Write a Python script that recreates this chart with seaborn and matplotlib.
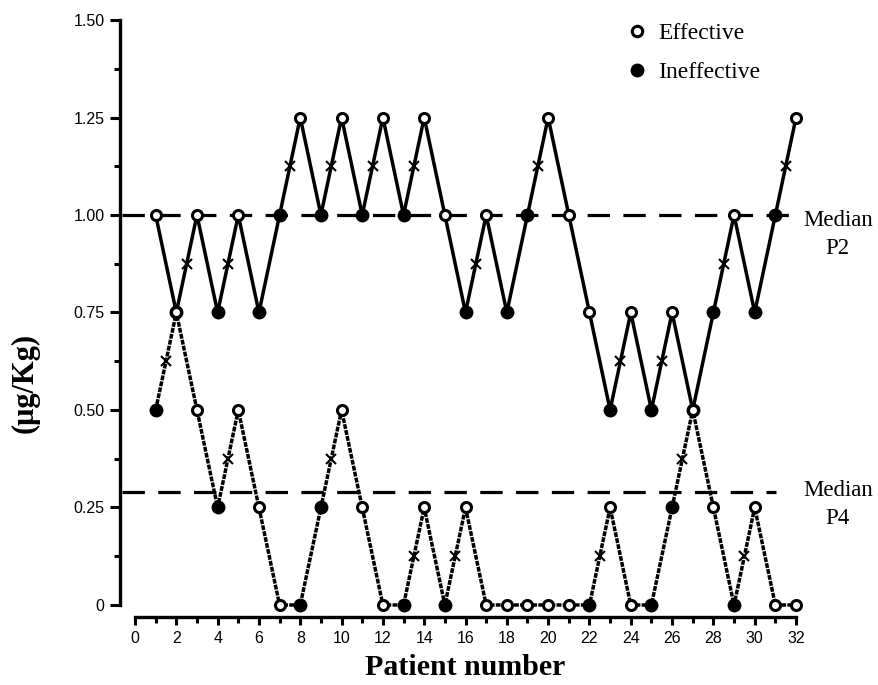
import matplotlib
matplotlib.use("Agg")
import matplotlib.pyplot as plt
import seaborn as sns
import pandas as pd
from matplotlib.lines import Line2D

# Up-and-down sequence, dose per patient (ug/Kg) and response (1 = effective)
patients = list(range(1, 33))
p2_dose = [1.00, 0.75, 1.00, 0.75, 1.00, 0.75, 1.00, 1.25, 1.00, 1.25, 1.00,
           1.25, 1.00, 1.25, 1.00, 0.75, 1.00, 0.75, 1.00, 1.25, 1.00, 0.75,
           0.50, 0.75, 0.50, 0.75, 0.50, 0.75, 1.00, 0.75, 1.00, 1.25]
p2_effective = [1, 0, 1, 0, 1, 0, 0, 1, 0, 1, 0, 1, 0, 1, 1, 0,
                1, 0, 0, 1, 1, 1, 0, 1, 0, 1, 0, 0, 1, 0, 0, 1]
p4_dose = [0.50, 0.75, 0.50, 0.25, 0.50, 0.25, 0, 0, 0.25, 0.50, 0.25,
           0, 0, 0.25, 0, 0.25, 0, 0, 0, 0, 0, 0, 0.25, 0, 0, 0.25,
           0.50, 0.25, 0, 0.25, 0, 0]
p4_effective = [0, 1, 1, 0, 1, 1, 1, 0, 0, 1, 1, 1, 0, 1, 0, 1,
                1, 1, 1, 1, 1, 0, 1, 1, 0, 0, 1, 1, 0, 1, 1, 1]
median_p2 = 1.00
median_p4 = 0.29

y_ticks = [0, 0.25, 0.50, 0.75, 1.00, 1.25, 1.50]
y_labels = ["0", "0.25", "0.50", "0.75", "1.00", "1.25", "1.50"]
x_ticks = list(range(0, 33, 2))

sns.set_theme(style="ticks")
plt.rcParams['font.family'] = ['Liberation Sans', 'DejaVu Sans']
plt.rcParams['text.color'] = 'black'
serif = ['Liberation Serif', 'DejaVu Serif']

fig = plt.figure(figsize=(8.79, 6.85), dpi=100)
ax = fig.add_axes([0.1536, 0.1168, 0.752, 0.854])


def crossovers(dose, eff):
    # midpoints where an ineffective dose is followed by an effective one
    xs, ys = [], []
    for i in range(len(dose) - 1):
        if eff[i] == 0 and eff[i + 1] == 1:
            xs.append((patients[i] + patients[i + 1]) / 2)
            ys.append((dose[i] + dose[i + 1]) / 2)
    return xs, ys


series = [
    (p2_dose, p2_effective, '-'),
    (p4_dose, p4_effective, (0, (1.4, 0.35))),
]

for dose, eff, ls in series:
    df = pd.DataFrame({"patient": patients, "dose": dose, "eff": eff})
    sns.lineplot(data=df, x="patient", y="dose", color="black", lw=2.5,
                 linestyle=ls, estimator=None, sort=False, ax=ax, zorder=2)
    cx, cy = crossovers(dose, eff)
    ax.plot(cx, cy, linestyle='none', marker='x', color='black', ms=6.5, mew=1.5, zorder=3)
    ineff = df[df.eff == 0]
    good = df[df.eff == 1]
    sns.scatterplot(data=ineff, x="patient", y="dose", color="black", s=100,
                    linewidth=0, ax=ax, zorder=4, clip_on=False)
    sns.scatterplot(data=good, x="patient", y="dose", color="white", edgecolor="black",
                    s=52, linewidth=2.2, ax=ax, zorder=5, clip_on=False)

for line in ax.lines:
    line.set_clip_on(False)

# median lines
ax.axhline(median_p2, xmin=-0.02, xmax=0.99, color='black', lw=2.3,
           linestyle=(0, (7, 4.2)), clip_on=False, zorder=1)
ax.axhline(median_p4, xmin=-0.02, xmax=0.97, color='black', lw=2.3,
           linestyle=(0, (7, 4.2)), clip_on=False, zorder=1)
fig.text(0.953, 0.658, "Median\nP2", ha='center', va='center', fontsize=16.5,
         family=serif, linespacing=1.45, color='black')
fig.text(0.953, 0.263, "Median\nP4", ha='center', va='center', fontsize=16.5,
         family=serif, linespacing=1.45, color='black')

ax.set_xlim(0, 32)
ax.set_ylim(0, 1.5)
ax.set_yticks(y_ticks)
ax.set_yticklabels(y_labels)
ax.set_yticks([v + 0.125 for v in y_ticks[:-1]], minor=True)
ax.set_xticks(x_ticks)
ax.set_xticks(list(range(1, 32, 2)), minor=True)
ax.tick_params(axis='both', which='major', labelsize=11.5, width=2.2, color='black',
               labelcolor='black')
ax.tick_params(axis='y', which='major', length=7, pad=4)
ax.tick_params(axis='y', which='minor', length=4, width=2.2, color='black')
ax.tick_params(axis='x', which='major', length=6, pad=4)
ax.tick_params(axis='x', which='minor', length=4, width=2.2, color='black')
ax.set_xlabel("")
ax.set_ylabel("")

sns.despine(ax=ax, offset={'left': 11, 'bottom': 9})
for side in ['left', 'bottom']:
    ax.spines[side].set_linewidth(2.4)
    ax.spines[side].set_color('black')

fig.text(0.529, 0.014, "Patient number", ha='center', va='baseline', fontsize=21.5,
         fontweight='bold', family=serif, color='black')
fig.text(0.029, 0.441, "(\u03bcg/Kg)", ha='center', va='center', fontsize=22,
         fontweight='bold', family=serif, rotation=90, color='black')

handles = [
    Line2D([], [], linestyle='none', marker='o', ms=7.5, mfc='white', mec='black', mew=2.2),
    Line2D([], [], linestyle='none', marker='o', ms=10, mfc='black', mec='black', mew=0),
]
ax.legend(handles, ["Effective", "Ineffective"], loc='upper left',
          bbox_to_anchor=(0.703, 0.981), bbox_transform=fig.transFigure,
          frameon=False, prop={'family': serif, 'size': 17}, handlelength=0.8,
          handletextpad=0.5, labelspacing=0.76, borderaxespad=0, labelcolor='black')

fig.savefig("out.png", dpi=100)
